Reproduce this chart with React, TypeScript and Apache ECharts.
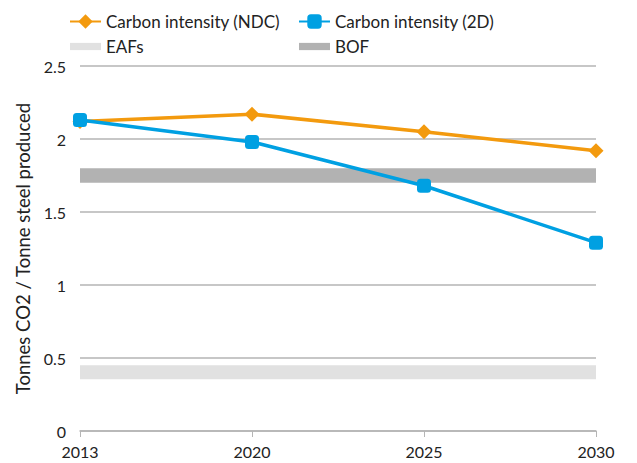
import React, { useEffect, useRef } from "react";
import * as echarts from "echarts";

const years = ["2013", "2020", "2025", "2030"];
const ndc = [2.12, 2.17, 2.05, 1.92];
const twoD = [2.13, 1.98, 1.68, 1.29];
const eafBand = [0.355, 0.45];
const bofBand = [1.7, 1.8];

const FONT = "Lato, 'Noto Sans', sans-serif";
const TXT = "#222";

export default function App() {
  const ref = useRef<HTMLDivElement>(null);
  useEffect(() => {
    if (!ref.current) return;
    const chart = echarts.init(ref.current, null, { renderer: "svg" });
    const legendText = { color: TXT, fontSize: 17, fontFamily: FONT };
    const bandIcon = "path://M0,0H30V7H0Z";
    chart.setOption({
      animation: false,
      textStyle: { fontFamily: FONT },
      grid: { left: 80, right: 41, top: 66, bottom: 32 },
      legend: [
        {
          orient: "vertical",
          left: 64,
          top: 8,
          itemWidth: 31,
          itemHeight: 18,
          itemGap: 8,
          textStyle: legendText,
          data: [
            { name: "Carbon intensity (NDC)" },
            { name: "EAFs", icon: bandIcon },
          ],
        },
        {
          orient: "vertical",
          left: 293,
          top: 8,
          itemWidth: 31,
          itemHeight: 18,
          itemGap: 8,
          textStyle: legendText,
          data: [
            { name: "Carbon intensity (2D)" },
            { name: "BOF", icon: bandIcon },
          ],
        },
      ],
      xAxis: {
        type: "category",
        data: years,
        boundaryGap: false,
        axisLine: { lineStyle: { color: "#b5b5b5", width: 1.5 } },
        axisTick: { show: true, length: 6, lineStyle: { color: "#b5b5b5" } },
        axisLabel: { color: TXT, fontSize: 16, margin: 12, fontFamily: FONT },
      },
      yAxis: {
        type: "value",
        min: 0,
        max: 2.5,
        interval: 0.5,
        name: "Tonnes CO2 / Tonne steel produced",
        nameLocation: "middle",
        nameGap: 47,
        nameTextStyle: { color: TXT, fontSize: 18.5, fontFamily: FONT },
        axisLine: { show: false },
        axisTick: { show: false },
        axisLabel: { color: TXT, fontSize: 16, margin: 14, fontFamily: FONT },
        splitLine: { lineStyle: { color: "#b5b5b5", width: 1.5 } },
      },
      series: [
        {
          name: "EAFs",
          type: "line",
          color: "#e1e1e1",
          data: [],
          markArea: {
            silent: true,
            itemStyle: { color: "#e1e1e1" },
            data: [[{ yAxis: eafBand[0] }, { yAxis: eafBand[1] }]],
          },
        },
        {
          name: "BOF",
          type: "line",
          color: "#b2b2b2",
          data: [],
          markArea: {
            silent: true,
            itemStyle: { color: "#b2b2b2" },
            data: [[{ yAxis: bofBand[0] }, { yAxis: bofBand[1] }]],
          },
        },
        {
          name: "Carbon intensity (NDC)",
          type: "line",
          color: "#f39a0e",
          data: ndc,
          z: 5,
          symbol: "diamond",
          symbolSize: 15,
          lineStyle: { width: 3.5 },
        },
        {
          name: "Carbon intensity (2D)",
          type: "line",
          color: "#00a0e2",
          data: twoD,
          z: 6,
          symbol: "roundRect",
          symbolSize: 14,
          lineStyle: { width: 3.5 },
        },
      ],
    });
    return () => chart.dispose();
  }, []);
  return (
    <div
      ref={ref}
      style={{ position: "absolute", left: 0, top: 0, width: 637, height: 463 }}
    />
  );
}
